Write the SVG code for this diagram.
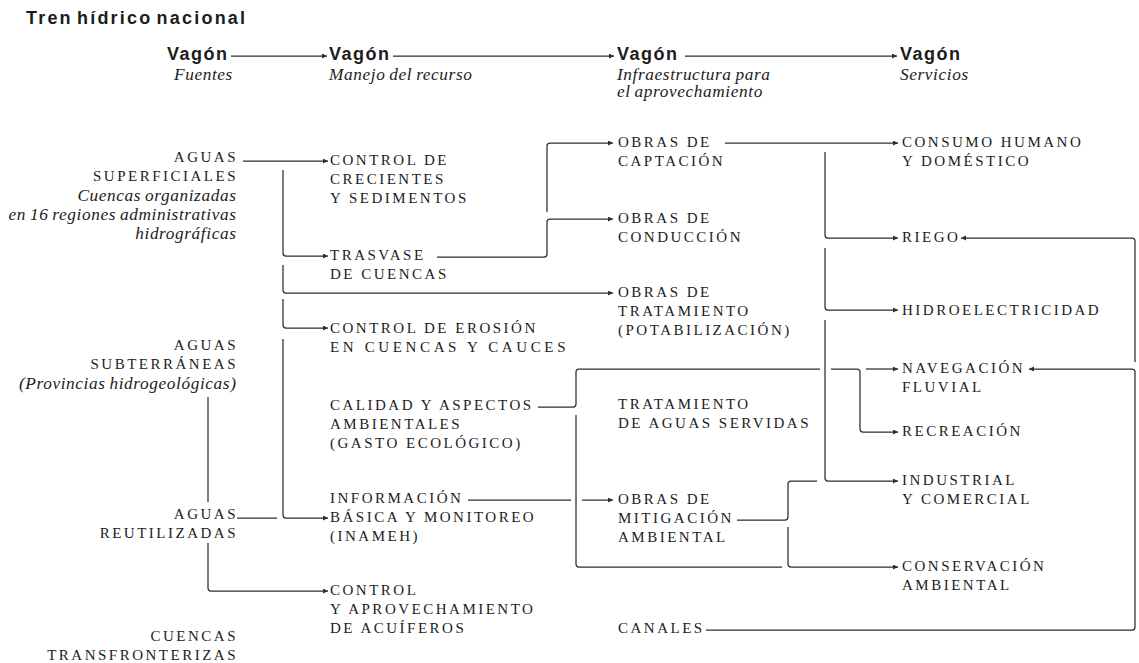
<svg xmlns="http://www.w3.org/2000/svg" width="1139" height="663" viewBox="0 0 1139 663">
<style>
text{fill:#1c1c1c}
.t{font-family:"Liberation Sans",Arial,sans-serif;font-weight:bold;font-size:18px;letter-spacing:2.2px;word-spacing:-3px}
.v{font-family:"Liberation Sans",Arial,sans-serif;font-weight:bold;font-size:18px;letter-spacing:1.5px}
.i{font-family:"Liberation Serif","Times New Roman",serif;font-style:italic;font-size:17.3px;letter-spacing:0.6px;word-spacing:-1px}
.c{font-family:"Liberation Serif","Times New Roman",serif;font-size:15px;letter-spacing:2.5px}
.e{text-anchor:end}
.l{fill:none;stroke:#2e2e2e;stroke-width:1.25}
.a{marker-end:url(#ah)}
</style>
<defs>
<marker id="ah" markerUnits="userSpaceOnUse" markerWidth="6" markerHeight="6" refX="5" refY="2.5" orient="auto">
<path d="M0,0 L5,2.5 L0,5 z" fill="#2e2e2e"/>
</marker>
</defs>
<text class="t" x="26" y="24">Tren hídrico nacional</text>
<g id="header">
<g id="vagon1"><text class="v" x="167" y="60">Vagón</text><text class="i" x="174" y="80">Fuentes</text></g>
<g id="vagon2"><text class="v" x="329" y="60">Vagón</text><text class="i" x="329" y="80">Manejo del recurso</text></g>
<g id="vagon3"><text class="v" x="617" y="60">Vagón</text><text class="i" x="617" y="80">Infraestructura para</text><text class="i" x="617" y="97">el aprovechamiento</text></g>
<g id="vagon4"><text class="v" x="900" y="60">Vagón</text><text class="i" x="900" y="80">Servicios</text></g>
</g>
<g id="aguas-superficiales">
<text class="c e" x="238" y="162">AGUAS</text>
<text class="c e" x="238" y="181">SUPERFICIALES</text>
<text class="i e" x="236.5" y="201">Cuencas organizadas</text>
<text class="i e" x="236.5" y="220">en 16 regiones administrativas</text>
<text class="i e" x="236.5" y="239">hidrográficas</text>
</g>
<g id="aguas-subterraneas">
<text class="c e" x="238" y="350">AGUAS</text>
<text class="c e" x="238" y="369">SUBTERRÁNEAS</text>
<text class="i e" x="236.5" y="389">(Provincias hidrogeológicas)</text>
</g>
<g id="aguas-reutilizadas">
<text class="c e" x="238" y="519">AGUAS</text>
<text class="c e" x="238" y="538">REUTILIZADAS</text>
</g>
<g id="cuencas-transfronterizas">
<text class="c e" x="238" y="641">CUENCAS</text>
<text class="c e" x="238" y="660">TRANSFRONTERIZAS</text>
</g>
<g id="control-crecientes"><text class="c" x="330" y="165">CONTROL DE</text><text class="c" x="330" y="184">CRECIENTES</text><text class="c" x="330" y="203">Y SEDIMENTOS</text></g>
<g id="trasvase"><text class="c" x="330" y="260">TRASVASE</text><text class="c" x="330" y="279">DE CUENCAS</text></g>
<g id="control-erosion"><text class="c" x="330" y="333">CONTROL DE EROSIÓN</text><text class="c" x="330" y="352" textLength="238" lengthAdjust="spacing">EN CUENCAS Y CAUCES</text></g>
<g id="calidad"><text class="c" x="330" y="410">CALIDAD Y ASPECTOS</text><text class="c" x="330" y="429">AMBIENTALES</text><text class="c" x="330" y="448">(GASTO ECOLÓGICO)</text></g>
<g id="informacion"><text class="c" x="330" y="503">INFORMACIÓN</text><text class="c" x="330" y="522">BÁSICA Y MONITOREO</text><text class="c" x="330" y="541">(INAMEH)</text></g>
<g id="control-acuiferos"><text class="c" x="330" y="595">CONTROL</text><text class="c" x="330" y="614">Y APROVECHAMIENTO</text><text class="c" x="330" y="633">DE ACUÍFEROS</text></g>
<g id="captacion"><text class="c" x="618" y="147">OBRAS DE</text><text class="c" x="618" y="166">CAPTACIÓN</text></g>
<g id="conduccion"><text class="c" x="618" y="223">OBRAS DE</text><text class="c" x="618" y="242">CONDUCCIÓN</text></g>
<g id="tratamiento"><text class="c" x="618" y="297">OBRAS DE</text><text class="c" x="618" y="316">TRATAMIENTO</text><text class="c" x="618" y="335">(POTABILIZACIÓN)</text></g>
<g id="aguas-servidas"><text class="c" x="618" y="409">TRATAMIENTO</text><text class="c" x="618" y="428">DE AGUAS SERVIDAS</text></g>
<g id="mitigacion"><text class="c" x="618" y="504">OBRAS DE</text><text class="c" x="618" y="523">MITIGACIÓN</text><text class="c" x="618" y="542">AMBIENTAL</text></g>
<g id="canales"><text class="c" x="618" y="633">CANALES</text></g>
<g id="consumo"><text class="c" x="902" y="147">CONSUMO HUMANO</text><text class="c" x="902" y="166">Y DOMÉSTICO</text></g>
<g id="riego"><text class="c" x="902" y="242">RIEGO</text></g>
<g id="hidro"><text class="c" x="902" y="315">HIDROELECTRICIDAD</text></g>
<g id="navegacion"><text class="c" x="902" y="373">NAVEGACIÓN</text><text class="c" x="902" y="392">FLUVIAL</text></g>
<g id="recreacion"><text class="c" x="902" y="436">RECREACIÓN</text></g>
<g id="industrial"><text class="c" x="902" y="485">INDUSTRIAL</text><text class="c" x="902" y="504">Y COMERCIAL</text></g>
<g id="conservacion"><text class="c" x="902" y="571">CONSERVACIÓN</text><text class="c" x="902" y="590">AMBIENTAL</text></g>
<g id="connectors">
<path class="l a" d="M231,56 H327"/>
<path class="l a" d="M393,56 H614"/>
<path class="l a" d="M685,56 H897"/>
<path class="l a" d="M243,161 H328"/>
<path class="l a" d="M283,170 V253 Q283,256 286,256 H328"/>
<path class="l a" d="M283,265 V290 Q283,293 286,293 H613"/>
<path class="l a" d="M283,299 V325 Q283,328 286,328 H328"/>
<path class="l a" d="M283,339 V515 Q283,518 286,518 H328"/>
<path class="l" d="M237,518 H277"/>
<path class="l" d="M208,397 V502"/>
<path class="l a" d="M208,543 V588 Q208,591 211,591 H328"/>
<path class="l a" d="M437,257 H544 Q547,257 547,254 V222 Q547,219 550,219 H613"/>
<path class="l a" d="M547,212 V146 Q547,143 550,143 H613"/>
<path class="l a" d="M725,143 H898"/>
<path class="l a" d="M825,152 V235 Q825,238 828,238 H898"/>
<path class="l a" d="M825,248 V307 Q825,310 828,310 H898"/>
<path class="l a" d="M825,320 V478 Q825,481 828,481 H898"/>
<path class="l a" d="M468,500 H571 M582,500 H613"/>
<path class="l a" d="M538,407 H573 Q576,407 576,404 V372 Q576,369 579,369 H820 M831,369 H857 Q860,369 860,372 V429 Q860,432 863,432 H898"/>
<path class="l a" d="M866,369 H898"/>
<path class="l" d="M576,415 V564 Q576,567 579,567 H782"/>
<path class="l" d="M737,520 H785 Q788,520 788,517 V484 Q788,481 791,481 H817"/>
<path class="l a" d="M788,527 V564 Q788,567 791,567 H898"/>
<path class="l a" d="M706,630 H1132 Q1135,630 1135,627 V372 Q1135,369 1132,369 H1029"/>
<path class="l a" d="M1135,362 V241 Q1135,238 1132,238 H961"/>
</g>
</svg>
